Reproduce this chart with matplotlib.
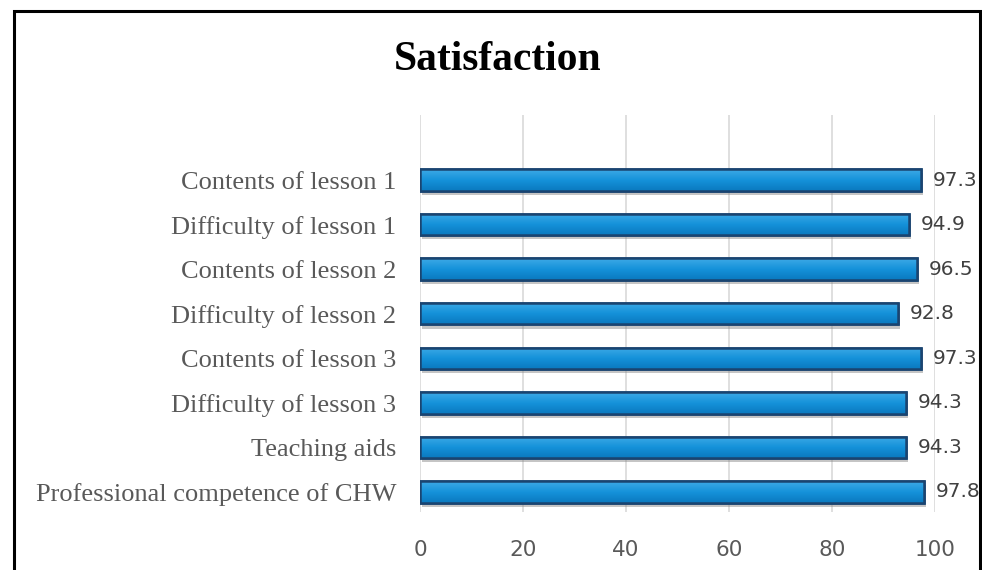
import matplotlib.pyplot as plt
import numpy as np
from matplotlib import patheffects
from matplotlib.patches import Rectangle

# --- data (bottom to top) ---
categories = [
    "Professional competence of CHW",
    "Teaching aids",
    "Difficulty of lesson 3",
    "Contents of lesson 3",
    "Difficulty of lesson 2",
    "Contents of lesson 2",
    "Difficulty of lesson 1",
    "Contents of lesson 1",
]
values = [97.8, 94.3, 94.3, 97.3, 92.8, 96.5, 94.9, 97.3]
x_ticks = [0, 20, 40, 60, 80, 100]

fig = plt.figure(figsize=(9.82, 5.70), dpi=100)
ax = fig.add_axes([0.4277, 0.1018, 0.5245, 0.6965])

y = np.arange(len(categories))
bars = ax.barh(y, values, height=0.48, color="#1591d9", edgecolor="#1c4a78",
               linewidth=1.8, zorder=3)

# soft shadow + vertical gradient like the office chart
grad = np.linspace(0, 1, 64).reshape(-1, 1)
cmap = plt.matplotlib.colors.LinearSegmentedColormap.from_list(
    "bar", ["#0a79bf", "#1592da", "#3eaae6"])
for b in bars:
    b.set_path_effects([patheffects.SimplePatchShadow(offset=(1.5, -3), shadow_rgbFace="#808080", alpha=0.45),
                        patheffects.Normal()])
    x0, y0 = b.get_x(), b.get_y()
    im = ax.imshow(grad, extent=(x0, x0 + b.get_width(), y0, y0 + b.get_height()),
                   origin="lower", cmap=cmap, aspect="auto", zorder=3.5)
    im.set_clip_path(b)
    ax.add_patch(Rectangle((x0, y0), b.get_width(), b.get_height(), fill=False,
                           edgecolor="#1a4470", linewidth=1.8, zorder=4))

for b, v in zip(bars, values):
    ax.text(v + 2.3, b.get_y() + b.get_height() / 2, f"{v:.1f}", va="center",
            ha="left", fontsize=14.5, color="#404040", family="DejaVu Sans")

ax.set_xlim(0, 100)
ax.set_ylim(-0.45, 8.46)
ax.set_xticks(x_ticks)
ax.set_xticklabels([str(t) for t in x_ticks], fontsize=15.5, color="#595959",
                   family="DejaVu Sans")
ax.set_yticks(y)
ax.set_yticklabels(categories, fontsize=19, color="#595959", family="Liberation Serif")
ax.tick_params(axis="both", length=0)
ax.tick_params(axis="x", pad=20)
ax.tick_params(axis="y", pad=17)
ax.grid(axis="x", color="#d9d9d9", linewidth=1.2, zorder=0)
ax.set_axisbelow(True)
for s in ax.spines.values():
    s.set_visible(False)

fig.text(0.507, 0.895, "Satisfaction", ha="center", va="center", fontsize=30,
         fontweight="bold", family="Liberation Serif", color="black")

# outer frame (bottom edge cut off in the original)
fig.patches.append(Rectangle((14 / 982, -0.1), (980 - 14) / 982, 1.1 - 11 / 570,
                             transform=fig.transFigure, fill=False,
                             edgecolor="black", linewidth=2.2))

fig.savefig("out.png", dpi=100)
